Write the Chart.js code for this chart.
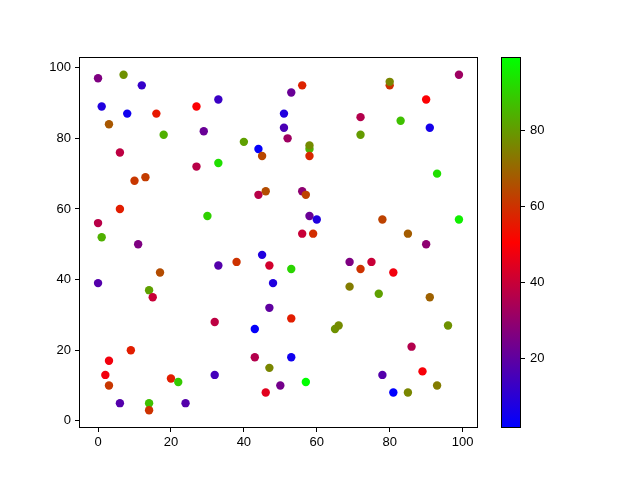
<!DOCTYPE html>
<html><head><meta charset="utf-8">
<script src="https://cdn.jsdelivr.net/npm/chart.js@4"></script>
<style>
html,body{margin:0;padding:0;background:#fff}
#wrap{position:relative;width:640px;height:480px}
canvas{position:absolute;left:0;top:0}
</style></head><body>
<div id="wrap"><canvas id="main" width="640" height="480"></canvas><canvas id="cb" width="640" height="480"></canvas></div>
<script>
const xs=[0,7,12,1,8,16,27,33,3,18,29,40,44,45,6,27,33,10,13,53,56,80,80,99,90,51,72,83,91,51,52,72,58,58,58,93,44,46,6,30,0,1,11,45,38,33,47,17,48,0,14,15,47,56,57,58,60,56,59,78,85,99,90,69,75,72,81,53,69,77,91,32,43,9,3,2,3,6,14,14,20,22,24,32,43,47,46,50,53,65,66,96,53,57,86,89,78,81,85,93];
const ys=[97,98,95,89,87,87,89,91,84,81,82,79,77,75,76,72,73,68,69,93,95,95,96,98,91,87,86,85,83,83,80,81,77,78,75,70,64,65,60,58,56,52,50,47,45,44,44,42,39,39,37,35,32,65,64,58,57,53,53,57,53,57,50,45,45,43,42,43,38,36,35,28,26,20,17,13,10,5,5,3,12,11,5,13,18,15,8,10,29,26,27,27,18,11,21,14,13,8,8,10];
const cs=[26,78,12,8,5,55,50,13,67,84,22,81,3,64,38,37,93,61,62,22,57,60,76,32,50,8,36,87,6,16,32,80,84,77,58,93,37,65,56,90,37,84,26,8,60,18,42,65,8,18,81,40,20,29,63,22,8,40,59,63,68,96,29,26,40,60,48,91,74,81,69,38,3,56,48,48,61,18,87,60,56,89,18,15,36,76,45,24,56,78,77,78,5,99,36,49,18,2,76,74];
const axisTicks=[0,20,40,60,80,100];
const cbTicks=[20,40,60,80];

const FONT={family:"'Liberation Sans', Arial, sans-serif",size:13};
function brg(t){
  t=Math.max(0,Math.min(1,t));let r,g,b;
  if(t<0.5){r=2*t;g=0;b=1-2*t;}else{r=2-2*t;g=2*t-1;b=0;}
  return 'rgb('+Math.round(r*255)+','+Math.round(g*255)+','+Math.round(b*255)+')';
}
const vmin=Math.min(...cs),vmax=Math.max(...cs);
const pts=xs.map((x,i)=>({x:x,y:ys[i]}));
const colors=cs.map(c=>brg((c-vmin)/(vmax-vmin)));
function lim(arr){const lo=Math.min(...arr),hi=Math.max(...arr),m=(hi-lo)*0.05;return [lo-m,hi+m];}
const [xmin,xmax]=lim(xs),[ymin,ymax]=lim(ys);

const frame={id:'frame',afterDraw(c){
  const a=c.chartArea,ctx=c.ctx;ctx.save();ctx.strokeStyle='#000';ctx.lineWidth=1;
  const l=Math.round(a.left)-0.5,t=Math.round(a.top)-0.5,r=Math.round(a.right)+0.5,b=Math.round(a.bottom)+0.5;
  ctx.strokeRect(l,t,r-l,b-t);ctx.restore();}};

const tickGrid={display:true,drawOnChartArea:false,drawTicks:true,tickLength:5,color:'#000',lineWidth:1};

new Chart(document.getElementById('main'),{
  type:'scatter',
  data:{datasets:[{data:pts,pointBackgroundColor:colors,pointBorderWidth:0,pointRadius:4.2,pointHoverRadius:4.2,showLine:false}]},
  options:{responsive:false,animation:false,events:[],
    layout:{padding:{left:0,right:163,top:58,bottom:23},autoPadding:false},
    plugins:{legend:{display:false},tooltip:{enabled:false}},
    scales:{
      x:{type:'linear',min:xmin,max:xmax,afterFit(s){s.height=30;},
        afterBuildTicks(s){s.ticks=axisTicks.map(v=>({value:v}));},
        grid:tickGrid,border:{display:false},ticks:{color:'#000',font:FONT,padding:3,maxRotation:0}},
      y:{type:'linear',min:ymin,max:ymax,afterFit(s){s.width=80;},
        afterBuildTicks(s){s.ticks=axisTicks.map(v=>({value:v}));},
        grid:tickGrid,border:{display:false},ticks:{color:'#000',font:FONT,padding:4}}
    }},
  plugins:[frame]
});

const cbPlugin={id:'cbfill',beforeDatasetsDraw(c){
  const a=c.chartArea,ctx=c.ctx;
  const g=ctx.createLinearGradient(0,a.bottom,0,a.top);
  g.addColorStop(0,'rgb(0,0,255)');g.addColorStop(0.5,'rgb(255,0,0)');g.addColorStop(1,'rgb(0,255,0)');
  ctx.save();ctx.fillStyle=g;ctx.fillRect(a.left,a.top,a.right-a.left,a.bottom-a.top);ctx.restore();}};

new Chart(document.getElementById('cb'),{
  type:'scatter',
  data:{datasets:[]},
  options:{responsive:false,animation:false,events:[],
    layout:{padding:{left:502,right:80,top:58,bottom:53},autoPadding:false},
    plugins:{legend:{display:false},tooltip:{enabled:false}},
    scales:{
      x:{display:false,min:0,max:1},
      y:{position:'right',min:vmin,max:vmax,afterFit(s){s.width=40;},
        afterBuildTicks(s){s.ticks=cbTicks.map(v=>({value:v}));},
        grid:tickGrid,border:{display:false},ticks:{color:'#000',font:FONT,padding:5}}
    }},
  plugins:[cbPlugin,frame]
});
</script>
</body></html>
